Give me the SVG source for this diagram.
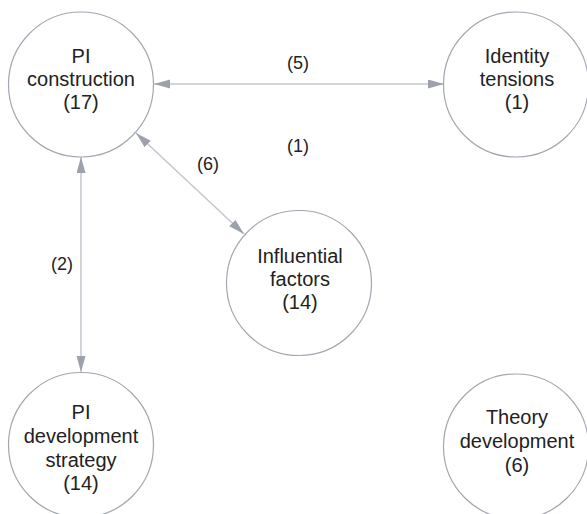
<svg xmlns="http://www.w3.org/2000/svg" width="587" height="514" viewBox="0 0 587 514">
<defs>
<style>
.node circle{fill:#fff;stroke:#a3a7b0;stroke-width:1.2}
.node text{font-family:"Liberation Sans",Arial,sans-serif;font-size:20px;fill:#222;text-anchor:middle}
.edge{stroke:#c3c7cf;stroke-width:1.5;fill:none;marker-start:url(#ah);marker-end:url(#ah)}
.lbl{font-family:"Liberation Sans",Arial,sans-serif;font-size:18px;fill:#222;text-anchor:middle}
</style>
<marker id="ah" markerUnits="userSpaceOnUse" markerWidth="18" markerHeight="10" refX="16" refY="4.5" orient="auto-start-reverse" viewBox="0 0 18 10">
<path d="M0,0 L16,4.5 L0,9 Z" fill="#9ca1ab"/>
</marker>
</defs>
<rect width="587" height="514" fill="#fff"/>
<g id="connectors">
<line class="edge" x1="154" y1="84" x2="444" y2="84"/>
<line class="edge" x1="81" y1="157" x2="81" y2="372"/>
<line class="edge" x1="136" y1="133" x2="244" y2="234"/>
<text class="lbl" x="298" y="69">(5)</text>
<text class="lbl" x="298" y="152">(1)</text>
<text class="lbl" x="208" y="170">(6)</text>
<text class="lbl" x="62" y="270">(2)</text>
</g>
<g id="pi-construction" class="node">
<circle cx="81" cy="84.5" r="72.5"/>
<text x="81" y="63">PI</text>
<text x="81" y="86">construction</text>
<text x="81" y="109">(17)</text>
</g>
<g id="identity-tensions" class="node">
<circle cx="516" cy="84.5" r="72.5"/>
<text x="517" y="63">Identity</text>
<text x="517" y="86">tensions</text>
<text x="517" y="109">(1)</text>
</g>
<g id="influential-factors" class="node">
<circle cx="299" cy="283" r="72.5"/>
<text x="300" y="263">Influential</text>
<text x="300" y="286">factors</text>
<text x="300" y="309">(14)</text>
</g>
<g id="pi-development-strategy" class="node">
<circle cx="81" cy="445" r="72.5"/>
<text x="81" y="419">PI</text>
<text x="81" y="443">development</text>
<text x="81" y="467">strategy</text>
<text x="81" y="490">(14)</text>
</g>
<g id="theory-development" class="node">
<circle cx="516" cy="446.5" r="72.5"/>
<text x="517" y="424">Theory</text>
<text x="517" y="448">development</text>
<text x="517" y="472">(6)</text>
</g>
</svg>
